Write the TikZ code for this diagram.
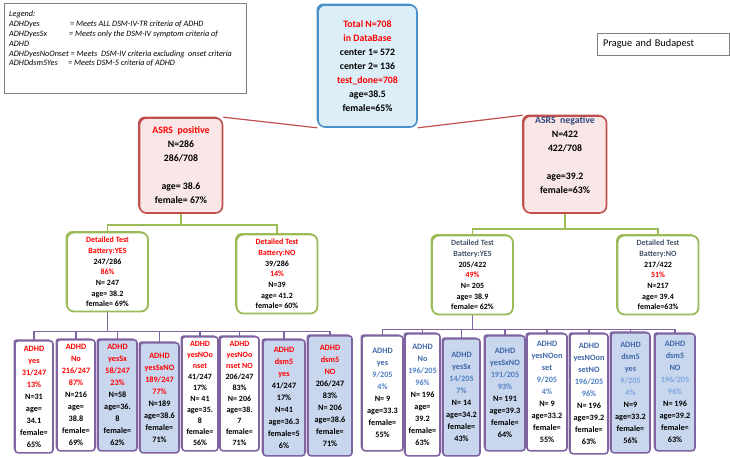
\documentclass[tikz,border=0pt]{standalone}
\usepackage{fontspec}
\setmainfont{Carlito}
\usetikzlibrary{backgrounds}
\usetikzlibrary{positioning}
\usetikzlibrary{shadows}
\definecolor{redtxt}{HTML}{FF0000}
\definecolor{navytxt}{HTML}{2E4A7D}
\definecolor{slatetxt}{HTML}{44546A}
\definecolor{bluetxt}{HTML}{3F67A8}
\definecolor{bluefrac}{HTML}{4F7FC4}
\definecolor{palefrac}{HTML}{7FA6DE}
\definecolor{topblue}{HTML}{4A90C8}
\definecolor{topfill}{HTML}{DCEFF8}
\definecolor{asrsred}{HTML}{C0504D}
\definecolor{asrsfill}{HTML}{F9E6E6}
\definecolor{olive}{HTML}{9BBB59}
\definecolor{purp}{HTML}{8064A2}
\definecolor{leaffill}{HTML}{C8D7EE}
\definecolor{framegray}{HTML}{7F7F7F}
\tikzset{
  box/.style={
    draw,
    rectangle,
    align=center,
    inner sep=1pt,
    line width=1.6pt,
  },
  total/.style={
    box,
    draw=topblue,
    fill=topfill,
    rounded corners=7pt,
    minimum width=99pt,
    minimum height=122pt,
    font=\bfseries\fontsize{9.8}{14}\selectfont,
    general shadow={shadow xshift=-1.5pt,shadow yshift=1.5pt,fill=topblue},
  },
  asrs/.style={
    box,
    draw=asrsred,
    fill=asrsfill,
    rounded corners=7pt,
    minimum width=83pt,
    minimum height=95pt,
    font=\bfseries\fontsize{9.8}{14}\selectfont,
    general shadow={shadow xshift=-1.5pt,shadow yshift=1.5pt,fill=asrsred},
  },
  detail/.style={
    box,
    draw=olive,
    fill=white,
    rounded corners=7pt,
    line width=1.8pt,
    minimum width=81pt,
    minimum height=79pt,
    font=\bfseries\fontsize{8}{10.7}\selectfont,
    general shadow={shadow xshift=-1.5pt,shadow yshift=1.5pt,fill=olive},
  },
  leaf/.style={
    box,
    draw=purp,
    fill=white,
    rounded corners=3pt,
    inner sep=0pt,
    anchor=north,
    font=\bfseries\fontsize{8.2}{12}\selectfont,
    general shadow={shadow xshift=-1.5pt,shadow yshift=1.5pt,fill=purp},
  },
  leafblue/.style={
    leaf,
    fill=leaffill,
  },
  tight/.style={
    font=\bfseries\fontsize{8}{11}\selectfont,
  },
  legendbox/.style={
    draw=framegray,
    fill=white,
    anchor=north west,
    inner xsep=5pt,
    inner ysep=8pt,
    drop shadow={shadow xshift=1pt,shadow yshift=-1pt,opacity=0.4},
  },
  citybox/.style={
    draw=framegray,
    fill=white,
    anchor=north west,
    minimum width=132pt,
    minimum height=22pt,
    text width=120pt,
    align=left,
    font=\fontsize{10.3}{12}\selectfont,
    drop shadow={shadow xshift=1pt,shadow yshift=-1pt,opacity=0.4},
  },
  redline/.style={draw=asrsred,line width=1.2pt},
  greenline/.style={draw=olive,line width=1.5pt},
  purpline/.style={draw=purp,line width=1.5pt},
}
\def\rd#1{\textcolor{redtxt}{#1}}
\def\bl#1{\textcolor{bluetxt}{#1}}
\def\bf#1{\textcolor{bluefrac}{#1}}
\begin{document}
\begin{tikzpicture}[x=1pt,y=-1pt]
  \useasboundingbox (0,0) rectangle (730,456);

  % legend and site label
  \node (legend) [legendbox] at (4,3) {%
    \parbox[t][74pt][t]{232pt}{\itshape\fontsize{8.2}{9.8}\selectfont
    Legend:\\
    \makebox[61pt][l]{ADHDyes}= Meets ALL DSM-IV-TR criteria of ADHD\\
    \makebox[60pt][l]{ADHDyesSx}= Meets only the DSM-IV symptom criteria of\\
    ADHD\\
    ADHDyesNoOnset = Meets\ \ DSM-IV criteria excluding\ \ onset criteria\\
    \makebox[59pt][l]{ADHDdsm5Yes}= Meets DSM-5 criteria of ADHD}};
  \node (city) [citybox] at (597,33) {Prague and Budapest};

  % first two levels
  \node (total) [total] at (367.5,66) {%
    \rd{Total N=708}\\ \rd{in DataBase}\\ center 1= 572\\ center 2= 136\\
    \rd{test\_done=708}\\ age=38.5\\ female=65\%};
  \node (pos) [asrs] at (181,165.5) {%
    \rd{ASRS\ \ positive}\\ N=286\\ 286/708\\[14pt] age= 38.6\\ female= 67\%};
  \node (neg) [asrs] at (565,164.5) {%
    \textcolor{navytxt}{ASRS\ \ negative}\\ N=422\\ 422/708\\[14pt] age=39.2\\ female=63\%\\[4pt]};

  % detailed test battery
  \node (posyes) [detail] at (107.5,272) {%
    \rd{Detailed Test}\\ \rd{Battery:YES}\\ 247/286\\ \rd{86\%}\\ N= 247\\ age= 38.2\\ female= 69\%};
  \node (posno) [detail] at (277,274) {%
    \rd{Detailed Test}\\ \rd{Battery:NO}\\ 39/286\\ \rd{14\%}\\ N=39\\ age= 41.2\\ female= 60\%};
  \node (negyes) [detail] at (472.5,275) {%
    \textcolor{slatetxt}{Detailed Test}\\ \textcolor{slatetxt}{Battery:YES}\\ 205/422\\ \rd{49\%}\\ N= 205\\ age= 38.9\\ female= 62\%};
  \node (negno) [detail] at (658,275) {%
    \textcolor{slatetxt}{Detailed Test}\\ \textcolor{slatetxt}{Battery:NO}\\ 217/422\\ \rd{51\%}\\ N=217\\ age= 39.4\\ female=63\%};

  % ADHD groups, positive side
  \node (pyes) [leaf,minimum width=38pt,minimum height=112pt] at (34,340) {%
    \rd{ADHD}\\ \rd{yes}\\ \rd{31/247}\\ \rd{13\%}\\ N=31\\ age=\\ 34.1\\ female=\\ 65\%};
  \node (pno) [leaf,minimum width=38pt,minimum height=111pt] at (76,339) {%
    \rd{ADHD}\\ \rd{No}\\ \rd{216/247}\\ \rd{87\%}\\ N=216\\ age=\\ 38.8\\ female=\\ 69\%};
  \node (psx) [leafblue,minimum width=39pt,minimum height=111pt] at (117.5,339) {%
    \rd{ADHD}\\ \rd{yesSx}\\ \rd{58/247}\\ \rd{23\%}\\ N=58\\ age=36.\\ 8\\ female=\\ 62\%};
  \node (psxno) [leafblue,minimum width=39pt,minimum height=110pt] at (159.5,342) {%
    \rd{ADHD}\\ \rd{yesSxNO}\\ \rd{189/247}\\ \rd{77\%}\\ N=189\\ age=38.6\\ female=\\ 71\%};
  \node (ponset) [leaf,tight,minimum width=36pt,minimum height=114pt] at (200,336) {%
    \rd{ADHD}\\ \rd{yesNOo}\\ \rd{nset}\\ 41/247\\ 17\%\\ N= 41\\ age=35.\\ 8\\ female=\\ 56\%};
  \node (ponsetno) [leaf,tight,minimum width=39pt,minimum height=114pt] at (239.5,336) {%
    \rd{ADHD}\\ \rd{yesNOo}\\ \rd{nset NO}\\ 206/247\\ 83\%\\ N= 206\\ age=38.\\ 7\\ female=\\ 71\%};
  \node (pdsmyes) [leafblue,minimum width=42pt,minimum height=116pt] at (284,339) {%
    \rd{ADHD}\\ \rd{dsm5}\\ \rd{yes}\\ 41/247\\ 17\%\\ N=41\\ age=36.3\\ female=5\\ 6\%};
  \node (pdsmno) [leafblue,minimum width=44pt,minimum height=120pt] at (330,335) {%
    \rd{ADHD}\\ \rd{dsm5}\\ \rd{NO}\\ 206/247\\ 83\%\\ N= 206\\ age=38.6\\ female=\\ 71\%};

  % ADHD groups, negative side
  \node (nyes) [leaf,minimum width=41pt,minimum height=115pt] at (382.5,335) {%
    \bl{ADHD}\\ \bl{yes}\\ \bf{9/205}\\ \bf{4\%}\\ N= 9\\ age=33.3\\ female=\\ 55\%};
  \node (nno) [leaf,minimum width=35pt,minimum height=122pt] at (422.5,333) {%
    \bl{ADHD}\\ \bl{No}\\ \bf{196/205}\\ \bf{96\%}\\ N= 196\\ age=\\ 39.2\\ female=\\ 63\%};
  \node (nsx) [leafblue,minimum width=37pt,minimum height=117pt] at (461.5,338) {%
    \bl{ADHD}\\ \bl{yesSx}\\ \bf{14/205}\\ \bf{7\%}\\ N= 14\\ age=34.2\\ female=\\ 43\%};
  \node (nsxno) [leafblue,minimum width=40pt,minimum height=115pt] at (505,335) {%
    \bl{ADHD}\\ \bl{yesSxNO}\\ \bf{191/205}\\ \bf{93\%}\\ N= 191\\ age=39.3\\ female=\\ 64\%};
  \node (nonset) [leaf,minimum width=40pt,minimum height=117pt] at (547,333) {%
    \bl{ADHD}\\ \bl{yesNOon}\\ \bl{set}\\ \bf{9/205}\\ \bf{4\%}\\ N= 9\\ age=33.2\\ female=\\ 55\%};
  \node (nonsetno) [leaf,minimum width=38pt,minimum height=120pt] at (589,333) {%
    \bl{ADHD}\\ \bl{yesNOon}\\ \bl{setNO}\\ \bf{196/205}\\ \bf{96\%}\\ N= 196\\ age=39.2\\ female=\\ 63\%};
  \node (ndsmyes) [leafblue,minimum width=39pt,minimum height=120pt] at (630.5,332) {%
    \bl{ADHD}\\ \bl{dsm5}\\ \bl{yes}\\ \textcolor{palefrac}{9/205}\\ \textcolor{palefrac}{4\%}\\ N=9\\ age=33.2\\ female=\\ 56\%};
  \node (ndsmno) [leafblue,minimum width=40pt,minimum height=117pt] at (675,333) {%
    \bl{ADHD}\\ \bl{dsm5}\\ \bl{NO}\\ \textcolor{palefrac}{196/205}\\ \textcolor{palefrac}{96\%}\\ N= 196\\ age=39.2\\ female=\\ 63\%};

  \begin{scope}[on background layer]
    \path [redline] (pos.north east) -- (total.south west);
    \path [redline] (total.south east) -- (neg.north west);
    \foreach \kid in {posyes,posno}
      \path [greenline] (pos.south) -- ++(0,11) -| (\kid.north);
    \foreach \kid in {negyes,negno}
      \path [greenline] (neg.south) -- ++(0,15) -| (\kid.north);
    \foreach \kid in {pyes,pno,psx,psxno,ponset,ponsetno,pdsmyes,pdsmno}
      \path [purpline] (posyes.south) -- ++(0,19) -| (\kid.north);
    \foreach \kid in {nyes,nno,nsx,nsxno,nonset,nonsetno,ndsmyes,ndsmno}
      \path [purpline] (negyes.south) -- ++(0,14) -| (\kid.north);
  \end{scope}
\end{tikzpicture}
\end{document}
